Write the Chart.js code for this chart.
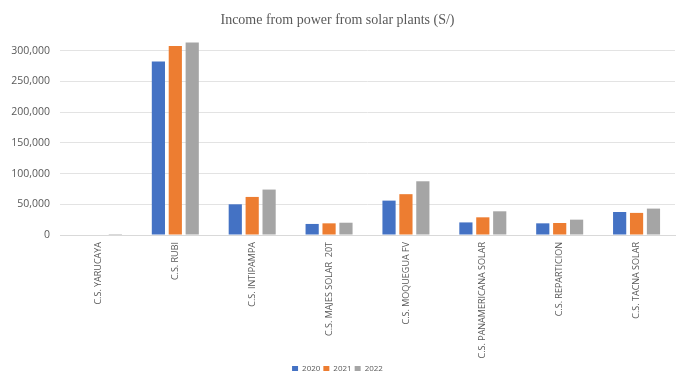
<!DOCTYPE html>
<html>
<head>
<meta charset="utf-8">
<script src="https://cdn.jsdelivr.net/npm/chart.js@4/dist/chart.umd.min.js"></script>
<style>
  html, body { margin: 0; padding: 0; background: #fff; }
  #wrap { width: 678px; height: 371px; }
</style>
</head>
<body>
<div id="wrap"><canvas id="myChart" width="678" height="371"></canvas></div>
<script>
// plants on the x axis
const plants = [
  'C.S. YARUCAYA', 'C.S. RUBI', 'C.S. INTIPAMPA', 'C.S. MAJES SOLAR  20T',
  'C.S. MOQUEGUA FV', 'C.S. PANAMERICANA SOLAR', 'C.S. REPARTICION', 'C.S. TACNA SOLAR'
];
// income in soles
const income2020 = [0, 282500, 50000, 18000, 56000, 20500, 19000, 37500];
const income2021 = [0, 308000, 62000, 19000, 66500, 28800, 19500, 36000];
const income2022 = [1500, 313500, 74000, 20000, 87500, 38600, 25000, 43000];
const yTicks = [0, 50000, 100000, 150000, 200000, 250000, 300000];

const grey = '#595959';

const data = {
  labels: plants,
  datasets: [
    { label: '2020', data: income2020, backgroundColor: '#4472C4', clip: false },
    { label: '2021', data: income2021, backgroundColor: '#ED7D31', clip: false },
    { label: '2022', data: income2022, backgroundColor: '#A5A5A5', clip: false }
  ]
};

const config = {
  type: 'bar',
  data: data,
  options: {
    responsive: false,
    animation: false,
    layout: { padding: { left: 0, right: 3, top: 0, bottom: -12 } },
    datasets: {
      bar: { categoryPercentage: 0.66, barPercentage: 0.78 }
    },
    plugins: {
      title: {
        display: true,
        text: 'Income from power from solar plants (S/)',
        color: grey,
        font: { family: 'Liberation Serif', size: 14, weight: 'normal' },
        padding: { top: 12, bottom: 22 }
      },
      legend: {
        position: 'bottom',
        labels: {
          boxWidth: 6, boxHeight: 6, padding: 3,
          color: grey,
          font: { family: 'Open Sans', size: 8 }
        }
      },
      tooltip: { enabled: false }
    },
    scales: {
      x: {
        afterFit: axis => { axis.height = 127; },
        grid: { display: false, drawTicks: false },
        border: { color: '#d9d9d9' },
        ticks: {
          color: grey,
          font: { family: 'Open Sans', size: 9 },
          minRotation: 90, maxRotation: 90,
          padding: 7, autoSkip: false
        }
      },
      y: {
        min: 0, max: 300000,
        afterBuildTicks: axis => { axis.ticks = yTicks.map(v => ({ value: v })); },
        afterFit: axis => { axis.width = 60; },
        grid: { color: '#e3e3e3', drawTicks: false },
        border: { display: false },
        ticks: {
          color: grey,
          font: { family: 'Open Sans', size: 10.5 },
          padding: 10,
          callback: v => v.toLocaleString('en-US')
        }
      }
    }
  }
};

const ctx = document.getElementById('myChart').getContext('2d');
new Chart(ctx, config);
</script>
</body>
</html>
